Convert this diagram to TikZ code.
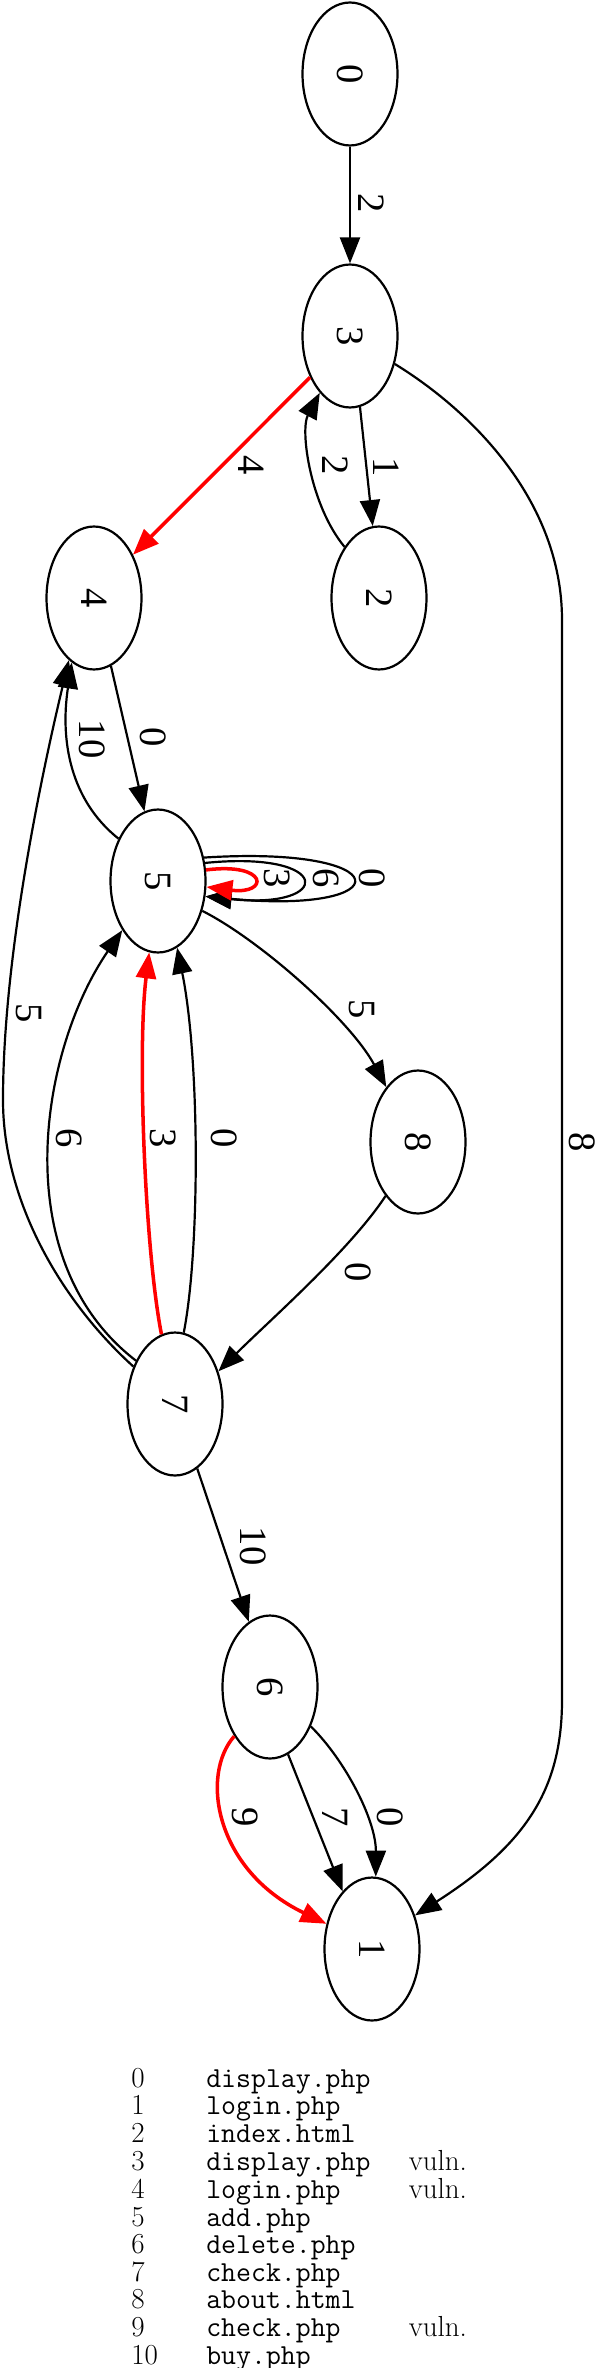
\documentclass[tikz,border=0pt]{standalone}
\usepackage{fontspec}
\usepackage{graphicx}
\usetikzlibrary{arrows.meta, shapes.geometric}
\newfontfamily\graphfont{Liberation Serif}
\tikzset{
  state font/.style={font=\graphfont\fontsize{22}{26}\selectfont},
  state/.style={ellipse, draw, line width=1.25pt, minimum width=1.9cm, minimum height=2.86cm, inner sep=0pt, state font},
  link/.style={line width=1.25pt, -{Triangle[length=0.52cm, width=0.4cm]}},
  attack/.style={link, red, line width=2pt},
  wt/.style={rotate=-90, inner sep=0pt, state font, text=black},
  legend/.style={inner sep=0pt, anchor=north west, font=\fontsize{16.5}{15.5}\selectfont},
}
\newcommand{\turned}[1]{\rotatebox{-90}{#1}}

\begin{document}
\begin{tikzpicture}[x=0.02cm, y=-0.02cm]
  \useasboundingbox (0,0) rectangle (600,2368);
  % pages
  \node[state] (n0) at (350,74)   {\turned{0}};
  \node[state] (n3) at (350,336)  {\turned{3}};
  \node[state] (n4) at (94,598)   {\turned{4}};
  \node[state] (n2) at (379,598)  {\turned{2}};
  \node[state] (n5) at (158,881)  {\turned{5}};
  \node[state] (n8) at (418,1142) {\turned{8}};
  \node[state] (n7) at (175,1404) {\turned{7}};
  \node[state] (n6) at (270,1687) {\turned{6}};
  \node[state] (n1) at (372,1949) {\turned{1}};
  % requests
  \draw[link] (n0) -- (n3) node[wt] at (371,203) {2};
  \draw[link] (n3.-82) -- (n2.95) node[wt] at (386,467) {1};
  \draw[link] (n2.124) .. controls (310,505) and (300,430) .. (n3.-118) node[wt] at (335,465) {2};
  \draw[attack] (n3.-134) -- (n4.48) node[wt] at (251,465) {4};
  \draw[link] (n3.-32) .. controls (470,410) and (562,500) .. (562,620) -- (562,1700)
    .. controls (562,1790) and (525,1845) .. (n1.38) node[wt] at (582,1142) {8};
  \draw[link] (n4.-76) -- (n5.101) node[wt] at (153,737) {0};
  \draw[link] (n5.133) .. controls (70,800) and (60,740) .. (n4.-109) node[wt] at (92,739) {10};
  \draw[link] (n7.138) .. controls (60,1300) and (3,1200) .. (3,1100)
    .. controls (3,950) and (45,760) .. (n4.-112) node[wt] at (29,1013) {5};
  \draw[link] (n7.132) .. controls (5,1260) and (40,1050) .. (n5.-126) node[wt] at (69,1138) {6};
  \draw[attack] (n7.101) .. controls (145,1250) and (137,1050) .. (n5.-97) node[wt] at (163,1138) {3};
  \draw[link] (n7.83) .. controls (200,1250) and (200,1060) .. (n5.-74) node[wt] at (224,1138) {0};
  \draw[link] (n5.-34) .. controls (260,940) and (350,1020) .. (n8.120) node[wt] at (362,1009) {5};
  \draw[link] (n8.-121) .. controls (350,1250) and (270,1320) .. (n7.37) node[wt] at (358,1272) {0};
  \draw[link] (n7.-71) -- (n6.108) node[wt] at (253,1546) {10};
  \draw[attack] (n6.-126) .. controls (200,1775) and (215,1870) .. (n1.151) node[wt] at (245,1817) {9};
  \draw[link] (n6.-75) -- (n1.117) node[wt] at (335,1817) {7};
  \draw[link] (n6.-44) .. controls (345,1760) and (376,1820) .. (n1.87) node[wt] at (390,1817) {0};
  % loops on add.php
  \draw[link] (n5.27) .. controls (401,845) and (401,915) .. (n5.-18) node[wt] at (372,878) {0};
  \draw[link] (n5.21) .. controls (334,850) and (334,910) .. (n5.-18) node[wt] at (326,878) {6};
  \draw[attack] (n5.13) .. controls (269,862) and (269,895) .. (n5.-7) node[wt] at (277,878) {3};
  % key
  \node[legend] (key) at (131,2068) {%
    \begin{tabular}{@{}l@{\hspace{27.5pt}}l@{\hspace{21.8pt}}l@{}}
      0  & \texttt{display.php} & \\
      1  & \texttt{login.php}   & \\
      2  & \texttt{index.html}  & \\
      3  & \texttt{display.php} & vuln. \\
      4  & \texttt{login.php}   & vuln. \\
      5  & \texttt{add.php}     & \\
      6  & \texttt{delete.php}  & \\
      7  & \texttt{check.php}   & \\
      8  & \texttt{about.html}  & \\
      9  & \texttt{check.php}   & vuln. \\
      10 & \texttt{buy.php}     & \\
    \end{tabular}};
\end{tikzpicture}
\end{document}
